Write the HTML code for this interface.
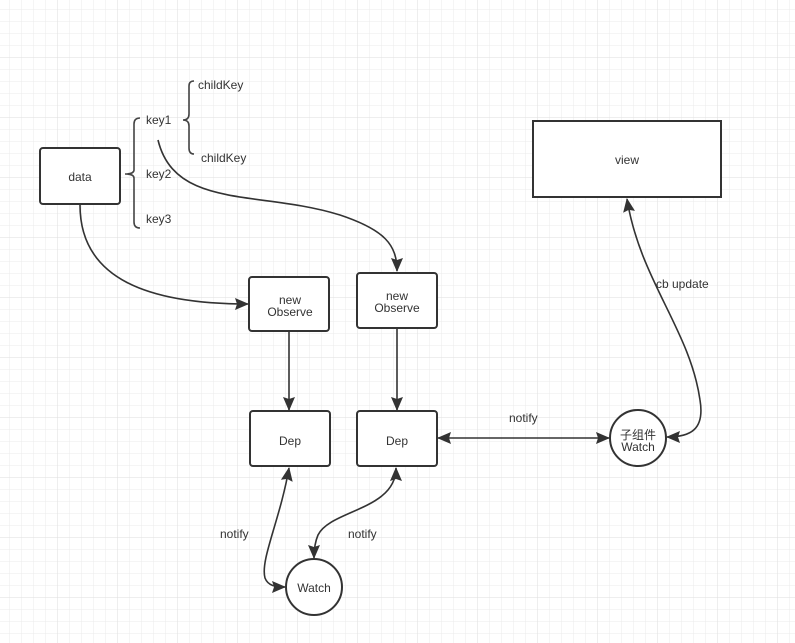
<!DOCTYPE html>
<html><head><meta charset="utf-8"><style>
body{margin:0;width:795px;height:643px;overflow:hidden;background:#fff;}
svg{display:block;font-family:"Liberation Sans","Noto Sans CJK SC",sans-serif;}
</style></head><body>
<svg width="795" height="643" viewBox="0 0 795 643">
<defs>
<pattern id="g" width="12" height="12" patternUnits="userSpaceOnUse" x="-2" y="-2">
<path d="M12 0V12H0" fill="none" stroke="#ebebeb" stroke-width="1"/>
</pattern>
<pattern id="G" width="60" height="60" patternUnits="userSpaceOnUse" x="-2" y="-2">
<path d="M60 0V60H0" fill="none" stroke="#dedede" stroke-width="1"/>
</pattern>
<marker id="a" markerWidth="14" markerHeight="12" refX="13" refY="6" orient="auto-start-reverse" markerUnits="userSpaceOnUse">
<path d="M0 0L14 6L0 12L2 6Z" fill="#333"/>
</marker>
</defs>
<rect width="795" height="643" fill="url(#g)"/>
<rect width="795" height="643" fill="url(#G)"/>
<g fill="#fff" stroke="#333" stroke-width="2">
<rect x="40" y="148" width="80" height="56" rx="3"/>
<rect x="533" y="121" width="188" height="76" stroke-width="2"/>
<rect x="249" y="277" width="80" height="54" rx="3"/>
<rect x="357" y="273" width="80" height="55" rx="3"/>
<rect x="250" y="411" width="80" height="55" rx="3"/>
<rect x="357" y="411" width="80" height="55" rx="3"/>
<circle cx="314" cy="587" r="28"/>
<circle cx="638" cy="438" r="28"/>
</g>
<g fill="none" stroke="#444" stroke-width="1.6">
<path d="M140 118Q134 118 134 124V170Q134 174 125 174Q134 174 134 178V222Q134 228 140 228"/>
<path d="M194 81Q189 81 189 86V114Q189 120 183 120Q189 120 189 126V148Q189 154 194 154"/>
</g>
<g fill="none" stroke="#333" stroke-width="1.6">
<path d="M80 205C80 280 150 304 248 304" marker-end="url(#a)"/>
<path d="M158 140C175 210 260 190 340 215C385 230 397 245 397 271" marker-end="url(#a)"/>
<path d="M289 332V410" marker-end="url(#a)"/>
<path d="M397 329V410" marker-end="url(#a)"/>
<path d="M289 468C280 520 260 560 265 578C268 586 276 587 285 587" marker-start="url(#a)" marker-end="url(#a)"/>
<path d="M396 468C396 510 330 510 318 535C315 542 314 550 314 558" marker-start="url(#a)" marker-end="url(#a)"/>
<path d="M438 438H609" marker-start="url(#a)" marker-end="url(#a)"/>
<path d="M627 199C640 280 690 330 700 400C705 430 690 437 667 437" marker-start="url(#a)" marker-end="url(#a)"/>
</g>
<g fill="#333" font-size="12" text-anchor="middle">
<text x="80" y="181">data</text>
<text x="627" y="164">view</text>
<text x="290" y="304">new</text>
<text x="290" y="316">Observe</text>
<text x="397" y="300">new</text>
<text x="397" y="312">Observe</text>
<text x="290" y="445">Dep</text>
<text x="397" y="445">Dep</text>
<text x="314" y="592">Watch</text>
<text x="638" y="439">子组件</text>
<text x="638" y="451">Watch</text>
</g>
<g fill="#333" font-size="12">
<text x="146" y="124">key1</text>
<text x="146" y="178">key2</text>
<text x="146" y="223">key3</text>
<text x="198" y="89">childKey</text>
<text x="201" y="162">childKey</text>
<text x="509" y="422">notify</text>
<text x="656" y="288">cb update</text>
<text x="220" y="538">notify</text>
<text x="348" y="538">notify</text>
</g>
</svg>
</body></html>
